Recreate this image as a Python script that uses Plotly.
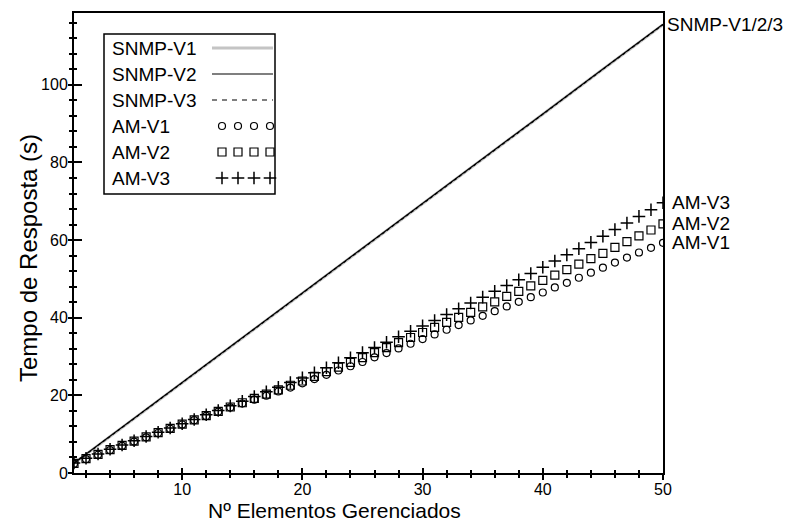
import plotly.graph_objects as go

# ---------------- data ----------------
nodes = list(range(1, 51))

snmp_x = [1, 5, 10, 15, 20, 25, 30, 35, 40, 45, 50]
snmp_v1 = [2.5, 11.7, 23.3, 34.8, 46.3, 57.8, 69.4, 80.9, 92.4, 104.0, 115.5]
snmp_v2 = [2.6, 11.8, 23.4, 34.9, 46.4, 57.9, 69.5, 81.0, 92.5, 104.1, 115.6]
snmp_v3 = [2.5, 11.7, 23.3, 34.8, 46.3, 57.8, 69.4, 80.9, 92.4, 104.0, 115.5]

am_v1 = [2.4, 3.6, 4.7, 5.9, 7.0, 8.1, 9.2, 10.3, 11.4, 12.5,
         13.6, 14.7, 15.8, 16.9, 17.9, 18.9, 19.9, 21.0, 22.0, 23.1,
         24.2, 25.3, 26.4, 27.5, 28.6, 29.8, 30.9, 32.1, 33.3, 34.5,
         35.7, 36.9, 38.1, 39.3, 40.5, 41.7, 42.9, 44.1, 45.3, 46.5,
         47.8, 49.0, 50.3, 51.6, 52.9, 54.2, 55.5, 56.8, 58.0, 59.3]
am_v2 = [2.5, 3.7, 4.8, 6.0, 7.1, 8.2, 9.3, 10.4, 11.5, 12.6,
         13.7, 14.8, 15.9, 17.0, 18.1, 19.2, 20.3, 21.4, 22.6, 23.7,
         24.9, 26.1, 27.3, 28.5, 29.7, 31.0, 32.3, 33.6, 34.9, 36.2,
         37.5, 38.8, 40.1, 41.4, 42.8, 44.1, 45.5, 46.8, 48.2, 49.6,
         51.0, 52.4, 53.8, 55.2, 56.6, 58.1, 59.6, 61.1, 62.6, 64.2]
am_v3 = [2.6, 3.8, 4.9, 6.1, 7.2, 8.3, 9.4, 10.5, 11.6, 12.7,
         13.8, 15.0, 16.1, 17.3, 18.5, 19.7, 20.9, 22.1, 23.3, 24.5,
         25.8, 27.1, 28.4, 29.7, 31.0, 32.3, 33.7, 35.1, 36.5, 37.9,
         39.3, 40.8, 42.3, 43.8, 45.3, 46.8, 48.3, 49.8, 51.4, 53.0,
         54.6, 56.2, 57.8, 59.4, 61.0, 62.7, 64.4, 66.1, 67.8, 69.6]

x_ticks = [10, 20, 30, 40, 50]
y_ticks = [0, 20, 40, 60, 80, 100]
legend_names = ["SNMP-V1", "SNMP-V2", "SNMP-V3", "AM-V1", "AM-V2", "AM-V3"]
end_labels = [("SNMP-V1/2/3", snmp_v2[-1]), ("AM-V3", am_v3[-1]),
              ("AM-V2", am_v2[-1]), ("AM-V1", am_v1[-1])]

X_RANGE = [1, 50]
Y_RANGE = [0, 118.5]

# ---------------- layout geometry (pixels) ----------------
W_FIG, H_FIG = 796, 526
L, R, T, B = 74, 663, 13, 473
FONT = "Liberation Sans, Arial, sans-serif"

fig = go.Figure()

fig.add_trace(go.Scatter(x=snmp_x, y=snmp_v1, mode="lines",
                         line=dict(color="#c4c4c4", width=3), showlegend=False))
fig.add_trace(go.Scatter(x=snmp_x, y=snmp_v2, mode="lines",
                         line=dict(color="black", width=1.2), showlegend=False))
fig.add_trace(go.Scatter(x=snmp_x, y=snmp_v3, mode="lines",
                         line=dict(color="black", width=1.2, dash="3px,3px"), showlegend=False))
fig.add_trace(go.Scatter(x=nodes, y=am_v1, mode="markers", showlegend=False,
                         marker=dict(symbol="circle-open", size=7, color="black",
                                     line=dict(width=1.2))))
fig.add_trace(go.Scatter(x=nodes, y=am_v2, mode="markers", showlegend=False,
                         marker=dict(symbol="square-open", size=8, color="black",
                                     line=dict(width=1.2))))
fig.add_trace(go.Scatter(x=nodes, y=am_v3, mode="markers", showlegend=False,
                         marker=dict(symbol="cross-thin-open", size=9, color="black",
                                     line=dict(width=1.5))))

# invisible trace for the overlay (inside-tick) axes
fig.add_trace(go.Scatter(x=[X_RANGE[0]], y=[Y_RANGE[0]], xaxis="x2", yaxis="y2",
                         mode="markers", marker=dict(opacity=0), showlegend=False,
                         hoverinfo="skip"))

# ---------------- custom legend (pixel coordinate overlay axes) ----------------
row_y = [48, 74, 100, 126, 152, 178]
mk_x = [222, 238, 254, 270]
for sym, ry, sz in [("circle-open", row_y[3], 7), ("square-open", row_y[4], 8),
                    ("cross-thin-open", row_y[5], 9)]:
    fig.add_trace(go.Scatter(x=mk_x, y=[ry] * 4, xaxis="x3", yaxis="y3", mode="markers",
                             showlegend=False, hoverinfo="skip",
                             marker=dict(symbol=sym, size=sz, color="black",
                                         line=dict(width=1.5 if sym.startswith("cross") else 1.2))))

def px_x(p):
    return (p - L) / (R - L)

def px_y(p):
    return (B - p) / (B - T)

shapes = [
    dict(type="rect", xref="paper", yref="paper",
         x0=px_x(104), x1=px_x(275), y0=px_y(194), y1=px_y(34),
         line=dict(color="black", width=1.5), fillcolor="white", layer="below"),
    dict(type="line", xref="paper", yref="paper", x0=px_x(212), x1=px_x(273),
         y0=px_y(row_y[0]), y1=px_y(row_y[0]), line=dict(color="#c4c4c4", width=3)),
    dict(type="line", xref="paper", yref="paper", x0=px_x(212), x1=px_x(273),
         y0=px_y(row_y[1]), y1=px_y(row_y[1]), line=dict(color="black", width=1.2)),
    dict(type="line", xref="paper", yref="paper", x0=px_x(212), x1=px_x(273),
         y0=px_y(row_y[2]), y1=px_y(row_y[2]),
         line=dict(color="black", width=1.2, dash="5px,5px")),
]

annotations = []
for name, ry in zip(legend_names, row_y):
    annotations.append(dict(text=name, xref="paper", yref="paper",
                            x=px_x(110), y=px_y(ry), xanchor="left", yanchor="middle",
                            showarrow=False, font=dict(family=FONT, size=19, color="black")))

for text, yv in end_labels:
    annotations.append(dict(text=text, xref="paper", yref="y", x=1.0, y=yv,
                            xanchor="left", yanchor="middle",
                            xshift=2 if text.startswith("SNMP") else 7,
                            showarrow=False, font=dict(family=FONT, size=19, color="black")))

annotations.append(dict(text="Nº Elementos Gerenciados", xref="paper", yref="paper",
                        x=px_x(334), y=px_y(510), xanchor="center", yanchor="middle",
                        showarrow=False, font=dict(family=FONT, size=21, color="black")))
annotations.append(dict(text="Tempo de Resposta (s)", xref="paper", yref="paper",
                        x=px_x(28), y=px_y(258), xanchor="center", yanchor="middle",
                        textangle=-90, showarrow=False,
                        font=dict(family=FONT, size=24, color="black")))

axis_common = dict(showgrid=False, zeroline=False)

fig.update_layout(
    width=W_FIG, height=H_FIG,
    margin=dict(l=L, r=W_FIG - R, t=T, b=H_FIG - B, pad=0),
    paper_bgcolor="white", plot_bgcolor="white",
    showlegend=False,
    font=dict(family=FONT, size=16, color="black"),
    xaxis=dict(range=X_RANGE, domain=[0, 1], anchor="y", tickvals=x_ticks,
               showline=True, linecolor="black", linewidth=2, mirror=True,
               ticks="outside", ticklen=5, tickwidth=2, tickcolor="black",
               ticklabelstandoff=-4,
               minor=dict(ticks="outside", ticklen=3, tickwidth=1.6, dtick=2, tick0=0,
                          tickcolor="black"),
               tickfont=dict(family=FONT, size=16, color="black"), **axis_common),
    yaxis=dict(range=Y_RANGE, domain=[0, 1], anchor="x", tickvals=y_ticks,
               showline=True, linecolor="black", linewidth=2, mirror=True,
               ticks="outside", ticklen=4, tickwidth=2, tickcolor="black",
               ticklabelstandoff=-3,
               minor=dict(ticks="outside", ticklen=3, tickwidth=1.6, dtick=4, tick0=0,
                          tickcolor="black"),
               tickfont=dict(family=FONT, size=16, color="black"), **axis_common),
    xaxis2=dict(range=X_RANGE, overlaying="x", anchor="y2", side="bottom",
                tickvals=x_ticks, showticklabels=False, showline=False,
                ticks="inside", ticklen=5, tickwidth=2, tickcolor="black",
                minor=dict(ticks="inside", ticklen=3, tickwidth=1.6, dtick=2, tick0=0,
                           tickcolor="black"), **axis_common),
    yaxis2=dict(range=Y_RANGE, overlaying="y", anchor="x2", side="left",
                tickvals=y_ticks, showticklabels=False, showline=False,
                ticks="inside", ticklen=8, tickwidth=2, tickcolor="black",
                minor=dict(ticks="inside", ticklen=3, tickwidth=1.6, dtick=4, tick0=0,
                           tickcolor="black"), **axis_common),
    xaxis3=dict(range=[L, R], overlaying="x", anchor="y3", visible=False, **axis_common),
    yaxis3=dict(range=[B, T], overlaying="y", anchor="x3", visible=False, **axis_common),
    shapes=shapes,
    annotations=annotations,
)

fig.write_html("out.html", config=dict(displayModeBar=False))
